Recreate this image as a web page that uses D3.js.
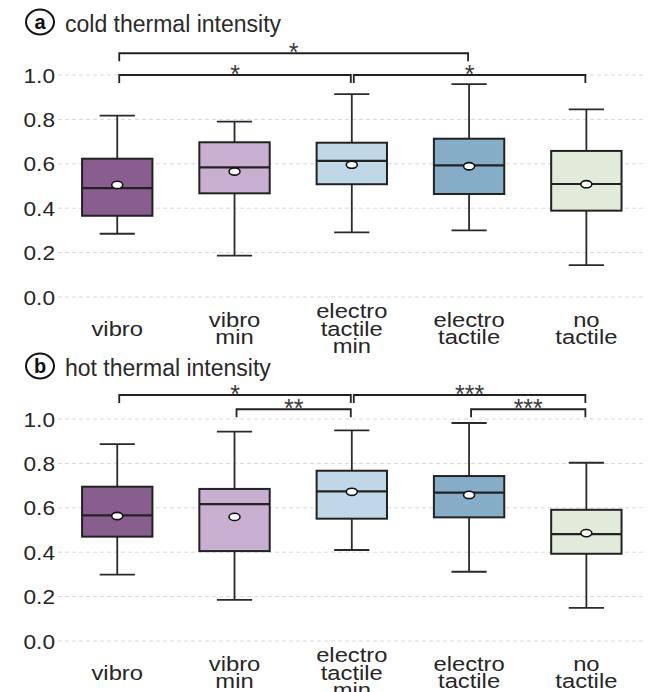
<!DOCTYPE html>
<html>
<head>
<meta charset="utf-8">
<title>thermal intensity</title>
<script src="https://d3js.org/d3.v7.min.js"></script>
<style>
  body { margin: 0; background: #fff; }
  text { font-family: "Liberation Sans", Arial, sans-serif; fill: #262626; }
</style>
</head>
<body>
<script>
// categories and label lines
const categories = ["vibro", "vibro min", "electro tactile min", "electro tactile", "no tactile"];
const catLines = [["vibro"], ["vibro", "min"], ["electro", "tactile", "min"], ["electro", "tactile"], ["no", "tactile"]];
const colors = ["#8a5d8f", "#c9afcf", "#bfd7e6", "#85adc8", "#e2ebd9"];
const yTicks = [0, 0.2, 0.4, 0.6, 0.8, 1.0];

// (a) cold thermal intensity
const coldLow    = [0.285, 0.186, 0.291, 0.300, 0.144];
const coldQ1     = [0.366, 0.467, 0.508, 0.464, 0.389];
const coldMedian = [0.490, 0.584, 0.613, 0.593, 0.509];
const coldQ3     = [0.623, 0.697, 0.695, 0.713, 0.658];
const coldHigh   = [0.817, 0.790, 0.914, 0.959, 0.845];
const coldMean   = [0.505, 0.565, 0.596, 0.589, 0.508];
const coldSig = [
  { from: 0, to: 3, y: 1.098, label: "*" },
  { from: 0, to: 2, y: 1.0, label: "*" },
  { from: 2, to: 4, y: 1.0, label: "*" }
];

// (b) hot thermal intensity
const hotLow    = [0.299, 0.185, 0.410, 0.312, 0.149];
const hotQ1     = [0.470, 0.405, 0.551, 0.557, 0.393];
const hotMedian = [0.566, 0.617, 0.674, 0.668, 0.481];
const hotQ3     = [0.695, 0.685, 0.767, 0.743, 0.591];
const hotHigh   = [0.887, 0.943, 0.949, 0.982, 0.803];
const hotMean   = [0.563, 0.559, 0.672, 0.658, 0.486];
const hotSig = [
  { from: 0, to: 2, y: 1.108, label: "*" },
  { from: 1, to: 2, y: 1.044, label: "**" },
  { from: 2, to: 4, y: 1.108, label: "***" },
  { from: 3, to: 4, y: 1.044, label: "***" }
];

const W = 650, H = 692;
const svg = d3.select("body").append("svg")
  .attr("width", W)
  .attr("height", H);

const x = d3.scaleBand()
  .domain(categories)
  .range([58.6, 645])
  .paddingInner(0.4)
  .paddingOuter(0.2);

function panel(top, letter, title, low, q1, med, q3, high, mean, sig) {
  const g = svg.append("g").attr("transform", `translate(0,${top})`);
  const y = d3.scaleLinear().domain([0, 1]).range([222, 0]);

  // title with circled letter
  g.append("ellipse")
    .attr("cx", 40).attr("cy", -53)
    .attr("rx", 14).attr("ry", 12.5)
    .style("fill", "none").style("stroke", "#111").style("stroke-width", 2);
  g.append("text")
    .attr("x", 40).attr("y", -46)
    .attr("text-anchor", "middle")
    .style("font-size", "20px").style("font-weight", "bold").style("fill", "#111")
    .text(letter);
  g.append("text")
    .attr("x", 65).attr("y", -43.5)
    .style("font-size", "23px").style("fill", "#2a2a2a")
    .text(title);

  // grid lines
  g.selectAll(".grid").data(yTicks).join("line")
    .attr("x1", 58).attr("x2", 645)
    .attr("y1", d => y(d)).attr("y2", d => y(d))
    .style("stroke", "#d9d9d9").style("stroke-width", 1)
    .style("stroke-dasharray", "4,3");

  // y tick labels
  g.selectAll(".ytick").data(yTicks).join("text")
    .attr("transform", d => `translate(55,${y(d) + 7.5}) scale(1.08,1)`)
    .attr("text-anchor", "end")
    .style("font-size", "21px")
    .text(d => d.toFixed(1));

  // category labels
  categories.forEach((c, i) => {
    const lines = catLines[i];
    const cx = x(c) + x.bandwidth() / 2;
    const t = g.append("text")
      .attr("transform", `translate(${cx},${222 + 38.5 - (lines.length - 1) * 8.75}) scale(1.16,1)`)
      .attr("text-anchor", "middle")
      .style("font-size", "20.5px");
    lines.forEach((l, j) => {
      t.append("tspan").attr("x", 0).attr("y", j * 17.5).text(l);
    });
  });

  // boxes
  const bw = x.bandwidth();
  categories.forEach((c, i) => {
    const cx = x(c) + bw / 2;
    const b = g.append("g");
    b.append("line")
      .attr("x1", cx).attr("x2", cx)
      .attr("y1", y(high[i])).attr("y2", y(low[i]))
      .style("stroke", "#2a2a2a").style("stroke-width", 1.8);
    [low[i], high[i]].forEach(v => {
      b.append("line")
        .attr("x1", cx - bw / 4).attr("x2", cx + bw / 4)
        .attr("y1", y(v)).attr("y2", y(v))
        .style("stroke", "#2a2a2a").style("stroke-width", 1.8);
    });
    b.append("rect")
      .attr("x", x(c)).attr("width", bw)
      .attr("y", y(q3[i])).attr("height", y(q1[i]) - y(q3[i]))
      .style("fill", colors[i]).style("stroke", "#222").style("stroke-width", 2);
    b.append("line")
      .attr("x1", x(c)).attr("x2", x(c) + bw)
      .attr("y1", y(med[i])).attr("y2", y(med[i]))
      .style("stroke", "#222").style("stroke-width", 2.2);
    b.append("ellipse")
      .attr("cx", cx).attr("cy", y(mean[i]))
      .attr("rx", 5.5).attr("ry", 3.6)
      .style("fill", "#fff").style("stroke", "#111").style("stroke-width", 1.6);
  });

  // significance brackets
  sig.forEach(s => {
    const x1 = x(categories[s.from]) + bw / 2 + 2;
    const x2 = x(categories[s.to]) + bw / 2 - 1;
    const yy = y(s.y);
    g.append("path")
      .attr("d", `M${x1},${yy + 8}V${yy}H${x2}V${yy + 8}`)
      .style("fill", "none").style("stroke", "#222").style("stroke-width", 1.8);
    g.append("text")
      .attr("x", (x1 + x2) / 2).attr("y", yy + 8)
      .attr("text-anchor", "middle")
      .style("font-size", "25px").style("fill", "#3a3a3a")
      .text(s.label);
  });
}

panel(75, "a", "cold thermal intensity", coldLow, coldQ1, coldMedian, coldQ3, coldHigh, coldMean, coldSig);
panel(419, "b", "hot thermal intensity", hotLow, hotQ1, hotMedian, hotQ3, hotHigh, hotMean, hotSig);
</script>
</body>
</html>
